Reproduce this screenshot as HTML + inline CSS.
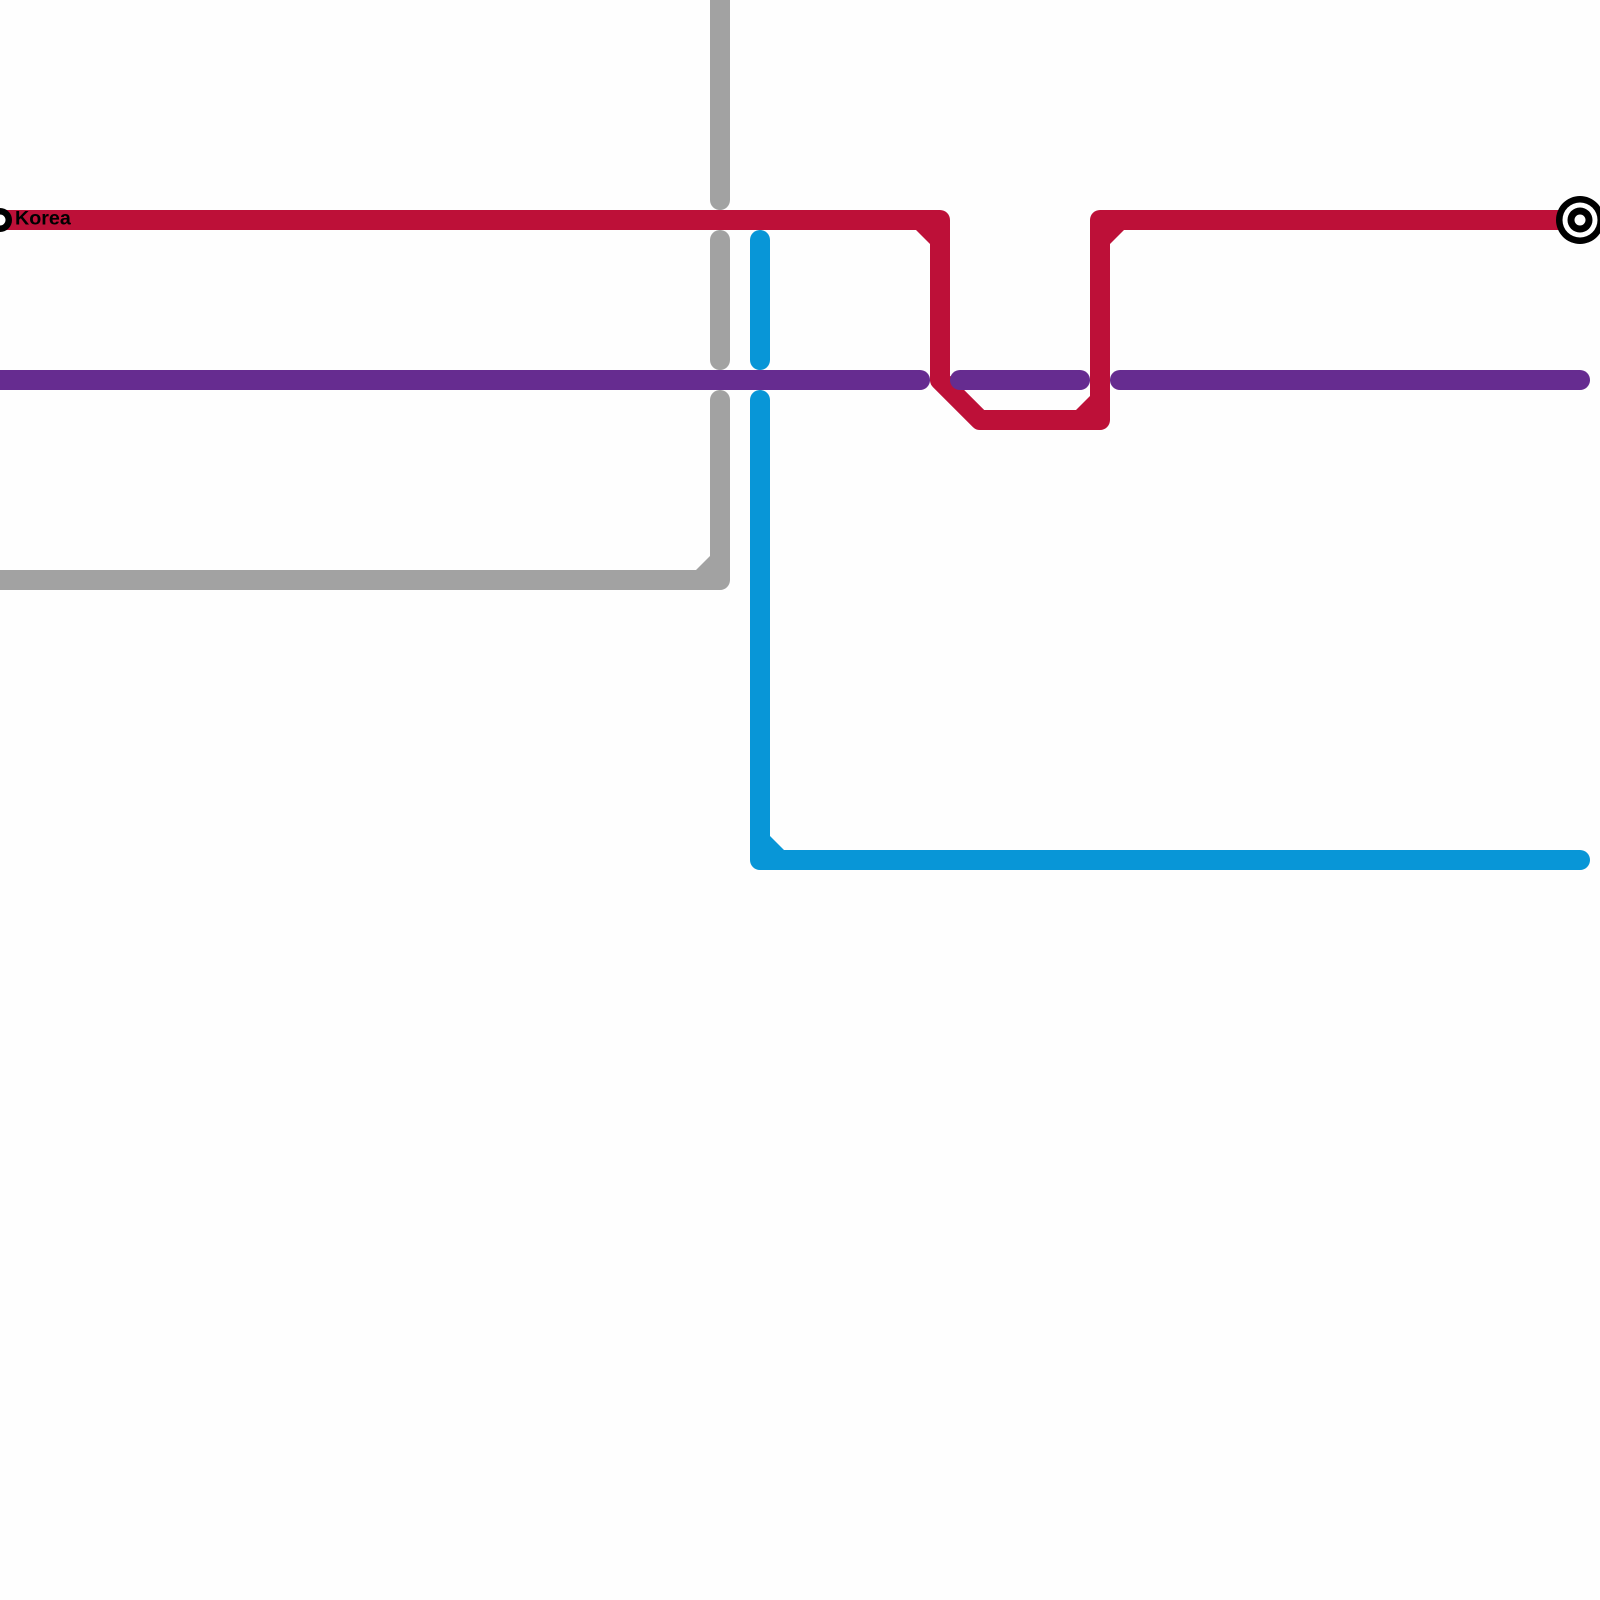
<!DOCTYPE html>
<html><head><meta charset="utf-8"><style>html,body{margin:0;padding:0;background:#fefefe}svg{display:block}</style></head>
<body>
<svg xmlns="http://www.w3.org/2000/svg" width="1600" height="1600" viewBox="0 0 1600 1600">
<rect width="1600" height="1600" fill="#fefefe"/>
<g fill="none" stroke-width="20" stroke-linecap="round" stroke-linejoin="round">
<g stroke="#a2a2a2">
<path d="M720-20V200"/><path d="M720 240V360"/><path d="M720 400V580H-20"/>
</g>
<g stroke="#0896d7">
<path d="M760 240V360"/><path d="M760 400V860H1580"/>
</g>
<g stroke="#bd1038">
<path d="M-20 220H940V380L980 420H1100V220H1580"/>
</g>
<g stroke="#662c90">
<path d="M-20 380H920"/><path d="M960 380H1080"/><path d="M1120 380H1580"/>
</g>
</g>
<polygon points="695,571 711,571 711,555" fill="#a2a2a2"/>
<polygon points="769,835 769,851 785,851" fill="#0896d7"/>
<g fill="#bd1038">
<polygon points="915,229 931,229 931,245"/>
<polygon points="1109,229 1125,229 1109,245"/>
<polygon points="1091,395 1091,411 1075,411"/>
</g>
<circle cx="0" cy="220" r="12" fill="#000"/><circle cx="0" cy="220" r="5.5" fill="#fff"/>
<circle cx="1580" cy="220" r="24" fill="#000"/><circle cx="1580" cy="220" r="17.5" fill="#fff"/>
<circle cx="1580" cy="220" r="12.5" fill="#000"/><circle cx="1580" cy="220" r="5.5" fill="#fff"/>
<text x="15" y="224.5" font-family="'Liberation Sans',sans-serif" font-weight="700" font-size="19.7" fill="#000">Korea</text>
</svg>
</body></html>
